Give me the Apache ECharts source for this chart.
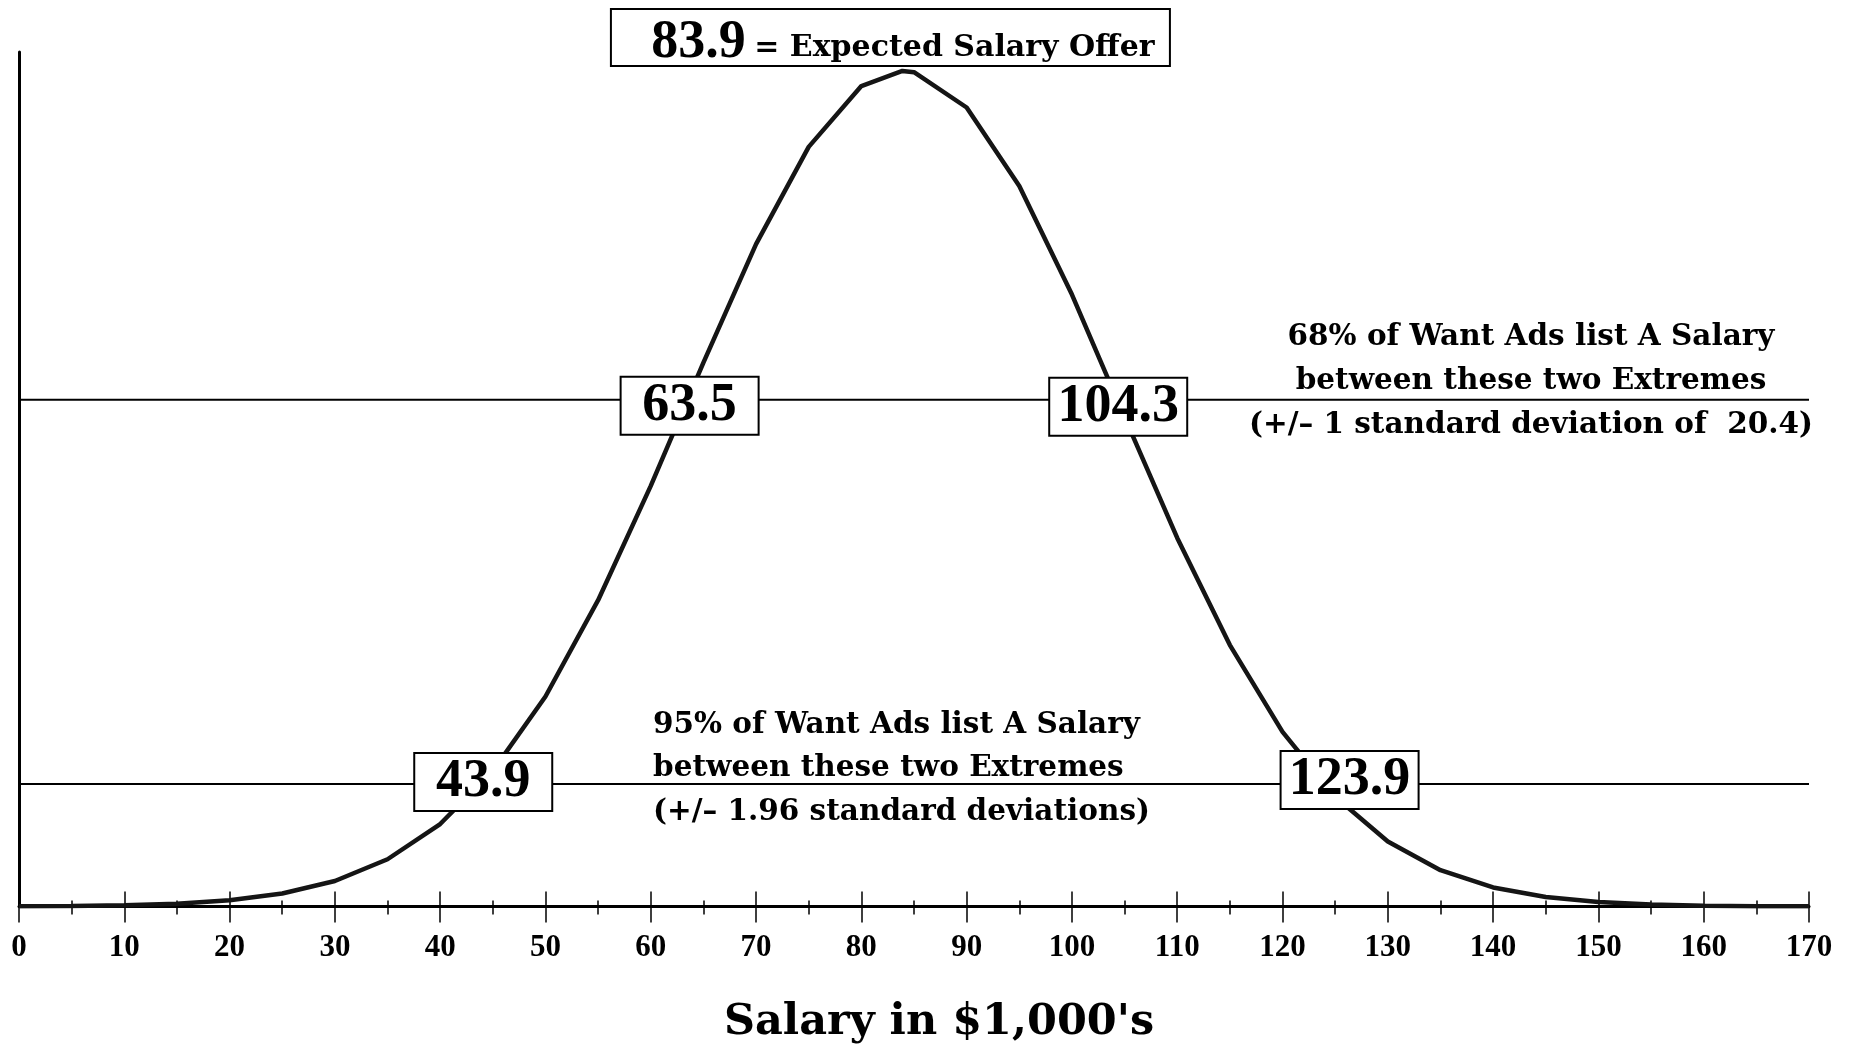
<!DOCTYPE html>
<html>
<head>
<meta charset="utf-8">
<script src="https://cdn.jsdelivr.net/npm/echarts@6/dist/echarts.min.js"></script>
<style>html,body{margin:0;padding:0;background:#fff}#c{width:1856px;height:1049px}</style>
</head>
<body>
<div id="c"></div>
<script>
// Salary (in $1,000's) sample points of the curve
const salary = [0,5,10,15,20,25,30,35,40,45,50,55,60,65,70,75,80,83.9,85,90,95,100,105,110,115,120,125,130,135,140,145,150,155,160,165,170];
// Relative frequency (height of the curve) at each salary point
const density = [0.004,0.011,0.028,0.065,0.145,0.303,0.596,1.106,1.930,3.174,4.916,7.169,9.844,12.731,15.504,17.780,19.202,19.556,19.528,18.701,16.865,14.323,11.454,8.626,6.118,4.086,2.570,1.522,0.849,0.446,0.221,0.103,0.045,0.019,0.007,0.003];
// Key values
const expectedSalary = 83.9;
const oneSdBounds = [63.5, 104.3];
const oneSdLevel = 11.86;
const ciBounds = [43.9, 123.9];
const ciLevel = 2.865;
const xTicks = [0,10,20,30,40,50,60,70,80,90,100,110,120,130,140,150,160,170];
const texts68 = ['68% of Want Ads list A Salary','between these two Extremes','(+/\u2013 1 standard deviation of  20.4)'];
const texts95 = ['95% of Want Ads list A Salary','between these two Extremes','(+/\u2013 1.96 standard deviations)'];
const axisTitle = "Salary in $1,000's";
const headerText = '= Expected Salary Offer';

const chart = echarts.init(document.getElementById('c'), null, {renderer: 'canvas'});
const serif = 'Liberation Serif';
const wide = 'DejaVu Serif';
const hidden = {opacity: 1, color: 'rgba(0,0,0,0)'};

const boxLabel = {
  show: true, position: 'inside', opacity: 1,
  formatter: p => p.value[0].toFixed(1),
  fontFamily: serif, fontWeight: 'bold', fontSize: 54, color: '#000',
  textBorderWidth: 0,
  backgroundColor: '#fff', borderColor: '#000', borderWidth: 2,
  width: 136, height: 56, lineHeight: 56, align: 'center', verticalAlign: 'middle'
};

const boxData = [
  {value: [oneSdBounds[0], oneSdLevel], label: {offset: [2, 6]}},
  {value: [oneSdBounds[1], oneSdLevel], label: {offset: [1, 7]}},
  {value: [ciBounds[0], ciLevel], label: {offset: [2, -2]}},
  {value: [ciBounds[1], ciLevel], label: {offset: [26, -4]}}
];

const xAxisBase = {
  type: 'value', min: 0, max: 170, interval: 10, position: 'bottom',
  splitLine: {show: false}
};

chart.setOption({
  animation: false,
  backgroundColor: '#fff',
  grid: {left: 19, right: 47, top: 52, bottom: 141, containLabel: false},
  xAxis: [
    Object.assign({}, xAxisBase, {
      axisLine: {show: true, lineStyle: {color: '#000', width: 3}},
      axisTick: {show: true, length: 16, lineStyle: {color: '#000', width: 1.5}},
      minorTick: {show: true, splitNumber: 2, length: 8, lineStyle: {color: '#000', width: 1.5}},
      axisLabel: {show: true, margin: 26, color: '#000', fontFamily: serif, fontWeight: 'bold', fontSize: 31,
        formatter: v => xTicks.indexOf(v) >= 0 ? String(v) : ''},
      name: axisTitle, nameLocation: 'middle', nameGap: 116,
      nameTextStyle: {fontFamily: wide, fontWeight: 'bold', fontSize: 43, color: '#000', verticalAlign: 'middle', padding: [0, 0, 0, 50]}
    }),
    Object.assign({}, xAxisBase, {
      axisLine: {show: false},
      axisTick: {show: true, inside: true, length: 15, lineStyle: {color: '#000', width: 1.5}},
      minorTick: {show: true, splitNumber: 2, length: 6, lineStyle: {color: '#000', width: 1.5}},
      axisLabel: {show: false}
    })
  ],
  yAxis: {
    type: 'value', min: 0, max: 20,
    axisLine: {show: true, lineStyle: {color: '#000', width: 3}},
    axisTick: {show: false}, axisLabel: {show: false}, splitLine: {show: false}
  },
  series: [
    {
      type: 'line', xAxisIndex: 0, data: [[0, oneSdLevel], [170, oneSdLevel]],
      symbol: 'none', lineStyle: {color: '#000', width: 2}, z: 1, silent: true
    },
    {
      type: 'line', xAxisIndex: 0, data: [[0, ciLevel], [170, ciLevel]],
      symbol: 'none', lineStyle: {color: '#000', width: 2}, z: 1, silent: true
    },
    {
      type: 'line', xAxisIndex: 0,
      data: salary.map((s, i) => [s, density[i]]),
      symbol: 'none', lineStyle: {color: '#151515', width: 4.5}, z: 2, silent: true
    },
    {
      type: 'scatter', xAxisIndex: 0, data: boxData, symbolSize: 1,
      itemStyle: hidden, label: boxLabel, z: 5, silent: true
    },
    // header box
    {
      type: 'scatter', xAxisIndex: 0, data: [[expectedSalary, 20]], symbolSize: 1,
      itemStyle: hidden, z: 6, silent: true,
      label: {
        show: true, position: 'inside', offset: [-12, -14.5], opacity: 1,
        formatter: () => ' ', fontSize: 10,
        backgroundColor: '#fff', borderColor: '#000', borderWidth: 2,
        width: 557, height: 55, align: 'center', verticalAlign: 'middle'
      }
    },
    // header value
    {
      type: 'scatter', xAxisIndex: 0, data: [[expectedSalary, 20]], symbolSize: 1,
      itemStyle: hidden, z: 7, silent: true,
      label: {
        show: true, position: 'inside', offset: [-204, -9], opacity: 1,
        formatter: p => p.value[0].toFixed(1),
        fontFamily: serif, fontWeight: 'bold', fontSize: 54, color: '#000', textBorderWidth: 0,
        align: 'center', verticalAlign: 'middle'
      }
    },
    // header text
    {
      type: 'scatter', xAxisIndex: 0, data: [[expectedSalary, 20]], symbolSize: 1,
      itemStyle: hidden, z: 7, silent: true,
      label: {
        show: true, position: 'inside', offset: [52, -4], opacity: 1,
        formatter: () => headerText,
        fontFamily: wide, fontWeight: 'bold', fontSize: 30, color: '#000', textBorderWidth: 0,
        align: 'center', verticalAlign: 'middle'
      }
    }
  ],
  graphic: [
    {
      type: 'text', x: 1531, y: 381, z: 10,
      style: {text: texts68.join('\n'), fontFamily: wide, fontWeight: 'bold', fontSize: 29.5, lineHeight: 44,
        fill: '#000', align: 'center', verticalAlign: 'middle'}
    },
    {
      type: 'text', x: 653, y: 768.5, z: 10,
      style: {text: texts95.join('\n'), fontFamily: wide, fontWeight: 'bold', fontSize: 29.5, lineHeight: 43.5,
        fill: '#000', align: 'left', verticalAlign: 'middle'}
    }
  ]
});
</script>
</body>
</html>
